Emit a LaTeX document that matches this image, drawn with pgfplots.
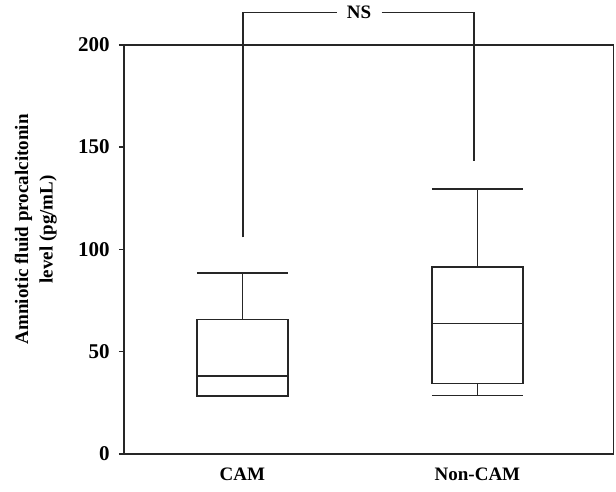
\documentclass[border=0pt]{standalone}
\usepackage{fontspec}
\setmainfont{Liberation Serif}
\usepackage{pgfplots}
\usepgfplotslibrary{statistics}
\pgfplotsset{compat=1.18}
\begin{document}
\fontsize{9.5}{12.25}\selectfont
\begin{tikzpicture}
\begin{axis}[
  scale only axis, width=244.75pt, height=204.5pt,
  xmin=0.496, xmax=2.579, ymin=0, ymax=200,
  clip=false,
  /pgf/number format/assume math mode=true,
  axis line style={black!85, line width=0.7pt},
  xtick={1,2}, xticklabels={CAM,Non-CAM},
  ytick={0,50,100,150,200},
  tick align=outside, ytick pos=left, xtick pos=bottom,
  major tick length=2.6pt,
  ytick style={black!85, line width=0.7pt},
  xtick style={draw=none},
  xticklabel style={font=\bfseries, yshift=-1pt},
  yticklabel style={font=\fontsize{10.5}{12}\selectfont\bfseries, xshift=-1.2pt},
  boxplot/draw direction=y,
  boxplot/every box/.style={draw=black!85, line width=0.7pt},
  boxplot/every whisker/.style={draw=black!85, line width=0.7pt},
  boxplot/every median/.style={draw=black!85, line width=0.7pt},
]
\path (rel axis cs:-0.2533,-0.0917) rectangle (rel axis cs:1.0051,1.1088);
\addplot+[mark=none, draw=black!85, line width=0.7pt, solid,
  boxplot prepared={draw position=1, lower whisker=28.3, lower quartile=28.3,
  median=38.1, upper quartile=65.8, upper whisker=88.5,
  box extend=0.387, whisker extend=0.387}] coordinates {};
\addplot+[mark=none, draw=black!85, line width=0.7pt, solid,
  boxplot prepared={draw position=2, lower whisker=28.6, lower quartile=34.5,
  median=63.8, upper quartile=91.4, upper whisker=129.4,
  box extend=0.387, whisker extend=0.387}] coordinates {};
\addplot[mark=none, draw=black!85, line width=0.7pt] coordinates {(1.003,105.8) (1.003,215.7) (1.401,215.7)};
\addplot[mark=none, draw=black!85, line width=0.7pt] coordinates {(1.592,215.7) (1.986,215.7) (1.986,143.3)};
\node[font=\bfseries] at (axis cs:1.496,215.7) {NS};
\node[rotate=90, align=center, font=\bfseries] at (rel axis cs:-0.18,0.549) {Amniotic fluid procalcitonin\\level (pg/mL)};
\end{axis}
\end{tikzpicture}
\end{document}
